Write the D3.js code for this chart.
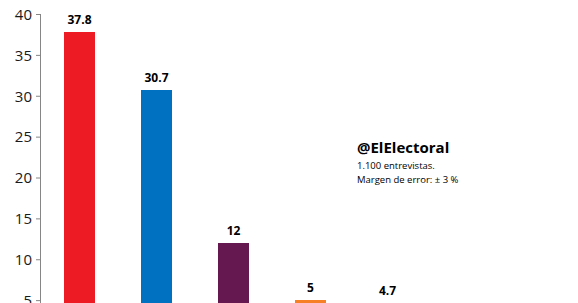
<!DOCTYPE html>
<html>
<head>
<meta charset="utf-8">
<script src="https://cdn.jsdelivr.net/npm/d3@7"></script>
<style>
body{margin:0;background:#fff;overflow:hidden;}
text{font-family:"Open Sans","Noto Sans",sans-serif;}
</style>
</head>
<body>
<script>
const svg_width = 578, svg_height = 303;
// categories (their names are cut off in the picture)
var categories = ["Candidato 1","Candidato 2","Candidato 3","Candidato 4","Candidato 5"];
var values = [37.8, 30.7, 12, 5, 4.7];
var labels = ["37.8","30.7","12","5","4.7"];
var colors = ["#ED1C24","#0070C0","#65174F","#F58025","#999999"];
var yTicks = [5,10,15,20,25,30,35,40];

var svgContainer = d3.select("body")
.append("svg")
.attr("width",svg_width)
.attr("height",svg_height);

var x = d3.scaleBand().domain(categories).range([41, 41 + 77*5]).paddingInner(0.6).paddingOuter(0.3);
var y = d3.scaleLinear().domain([0,40]).range([341,14]);

//bars
svgContainer.append("g").selectAll("rect")
.data(values)
.enter()
.append("rect")
.attr("x",function(d,i){return x(categories[i])})
.attr("y",function(d){return y(d)})
.attr("width",x.bandwidth())
.attr("height",function(d){return y(0) - y(d)})
.attr("shape-rendering","crispEdges")
.style("fill",function(d,i){return colors[i]});

//value labels
svgContainer.append("g").selectAll("text")
.data(values)
.enter()
.append("text")
.attr("x",function(d,i){return x(categories[i]) + x.bandwidth()/2})
.attr("y",function(d){return y(d) - 8})
.attr("text-anchor","middle")
.style("font-size","12px")
.style("font-weight","bold")
.style("fill","#000")
.text(function(d,i){return labels[i]});

//y axis
var axis = svgContainer.append("g")
.attr("transform","translate(41,0)")
.call(d3.axisLeft(y).tickValues(yTicks).tickSize(5).tickPadding(4));
axis.select(".domain").attr("stroke","#868686").attr("d","M-0.5,"+y(40)+"V"+y(0));
axis.selectAll(".tick line").attr("stroke","#868686");
axis.selectAll(".tick text").style("font-size","15px").style("fill","#1a1a1a").attr("dy","0.35em");

//note
var note = svgContainer.append("g");
note.append("text").attr("x",357).attr("y",153).style("font-size","15px").style("font-weight","bold").text("@ElElectoral");
note.append("text").attr("x",357).attr("y",169).style("font-size","9.5px").text("1.100 entrevistas.");
note.append("text").attr("x",357).attr("y",183).style("font-size","9.5px").text("Margen de error: ± 3 %");
</script>
</body>
</html>
